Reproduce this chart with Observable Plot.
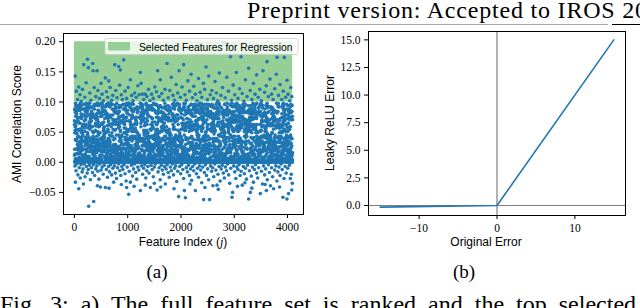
<!DOCTYPE html>
<html>
<head>
<meta charset="utf-8">
<script src="https://cdn.jsdelivr.net/npm/d3@7"></script>
<script src="https://cdn.jsdelivr.net/npm/@observablehq/plot@0.6"></script>
<style>
  html, body { margin: 0; padding: 0; background: #fff; }
  #page { position: relative; width: 640px; height: 308px; overflow: hidden; background: #fff; }
  #plotA, #plotB { position: absolute; top: 0; }
  #plotA { left: 0; }
  #plotB { left: 320px; }
  #overlay { position: absolute; left: 0; top: 0; pointer-events: none; }
</style>
</head>
<body>
<div id="page">
  <div id="plotA"></div>
  <div id="plotB"></div>
  <svg id="overlay" width="640" height="308"></svg>
</div>
<script>
// ---------------- Panel (a) data ----------------
// Feature index (j) and AMI correlation score.
const selectedJ = [0, 4095];
const selectedScore = [0.10, 0.20];

// Points above the 0.10 threshold: [feature index, AMI score]
const upperPoints = [[15,0.143],[35,0.118],[60,0.104],[80,0.125],[105,0.112],[130,0.101],[150,0.121],[175,0.162],[195,0.108],[220,0.132],[245,0.171],[262,0.157],[290,0.115],[310,0.103],[344,0.164],[350,0.152],[372,0.124],[400,0.109],[425,0.152],[440,0.119],[470,0.106],[500,0.131],[520,0.113],[545,0.102],[580,0.140],[600,0.117],[625,0.108],[645,0.135],[670,0.124],[700,0.103],[720,0.111],[757,0.162],[775,0.119],[800,0.107],[832,0.159],[850,0.128],[863,0.153],[880,0.112],[900,0.104],[925,0.170],[950,0.118],[980,0.106],[1010,0.124],[1050,0.137],[1075,0.111],[1100,0.102],[1130,0.115],[1160,0.108],[1190,0.127],[1215,0.112],[1238,0.149],[1251,0.131],[1275,0.113],[1300,0.104],[1330,0.113],[1360,0.109],[1390,0.121],[1420,0.102],[1450,0.113],[1480,0.106],[1510,0.125],[1540,0.117],[1563,0.152],[1590,0.109],[1613,0.137],[1640,0.114],[1670,0.103],[1700,0.121],[1738,0.164],[1760,0.107],[1790,0.119],[1820,0.141],[1850,0.111],[1880,0.103],[1910,0.129],[1940,0.115],[1965,0.152],[1990,0.108],[2020,0.125],[2050,0.162],[2075,0.112],[2100,0.103],[2130,0.135],[2160,0.118],[2190,0.146],[2215,0.107],[2240,0.126],[2270,0.113],[2300,0.102],[2330,0.139],[2360,0.116],[2390,0.108],[2420,0.131],[2445,0.121],[2470,0.158],[2495,0.104],[2520,0.143],[2550,0.112],[2580,0.119],[2610,0.106],[2640,0.134],[2665,0.115],[2690,0.102],[2720,0.148],[2750,0.111],[2780,0.124],[2800,0.199],[2830,0.107],[2860,0.141],[2890,0.118],[2930,0.175],[2950,0.103],[2980,0.128],[3010,0.112],[3040,0.149],[3070,0.106],[3100,0.122],[3127,0.175],[3150,0.114],[3180,0.101],[3210,0.137],[3240,0.109],[3270,0.156],[3300,0.119],[3330,0.104],[3360,0.131],[3390,0.113],[3420,0.145],[3450,0.108],[3480,0.121],[3510,0.102],[3540,0.152],[3570,0.116],[3600,0.127],[3615,0.167],[3640,0.109],[3670,0.138],[3700,0.113],[3730,0.104],[3760,0.122],[3790,0.146],[3803,0.174],[3830,0.111],[3860,0.129],[3890,0.104],[3920,0.118],[3940,0.174],[3965,0.108],[3990,0.136],[4010,0.113],[4040,0.102],[4060,0.124],[4080,0.109]];

// Points below zero: [feature index, AMI score]
const lowerPoints = [[19,-0.033],[81,-0.044],[268,-0.073],[362,-0.065],[488,-0.041],[582,-0.042],[737,-0.033],[1019,-0.053],[1051,-0.033],[1238,-0.047],[1426,-0.042],[1551,-0.046],[1707,-0.036],[1957,-0.057],[2083,-0.059],[2064,-0.047],[2270,-0.047],[2426,-0.062],[2538,-0.062],[2677,-0.038],[2958,-0.058],[2970,-0.050],[3270,-0.061],[3302,-0.050],[3490,-0.052],[3602,-0.047],[3739,-0.044],[3914,-0.058],[3990,-0.061],[4020,-0.052],[4052,-0.027],
[170,-0.036],[430,-0.039],[650,-0.043],[880,-0.037],[1120,-0.040],[1330,-0.038],[1620,-0.041],[1870,-0.044],[2170,-0.036],[2450,-0.042],[2700,-0.045],[3060,-0.040],[3330,-0.043],[3580,-0.037],[3850,-0.041],[4080,-0.046],[1500,-0.035],[2600,-0.039],[3200,-0.034],[980,-0.042],
[10,-0.006],[30,-0.014],[45,-0.003],[65,-0.021],[90,-0.009],[110,-0.026],[125,-0.004],[145,-0.016],[160,-0.011],[185,-0.003],[200,-0.024],[225,-0.007],[240,-0.018],[260,-0.012],[280,-0.005],[300,-0.029],[320,-0.009],[340,-0.017],[355,-0.004],[380,-0.022],[400,-0.011],[420,-0.006],[440,-0.015],[460,-0.028],[475,-0.003],[500,-0.013],[520,-0.008],[540,-0.020],[560,-0.005],[600,-0.012],[620,-0.025],[640,-0.007],[660,-0.016],[680,-0.004],[700,-0.021],[720,-0.010],[750,-0.006],[770,-0.018],[790,-0.027],[810,-0.009],[830,-0.003],[850,-0.014],[870,-0.022],[890,-0.007],[910,-0.012],[930,-0.004],[950,-0.019],[970,-0.031],[990,-0.008],[1030,-0.015],[1070,-0.005],[1090,-0.023],[1110,-0.011],[1130,-0.003],[1150,-0.017],[1170,-0.028],[1190,-0.008],[1210,-0.013],[1260,-0.006],[1280,-0.020],[1300,-0.010],[1320,-0.004],[1340,-0.026],[1360,-0.014],[1380,-0.007],[1400,-0.018],[1440,-0.005],[1460,-0.012],[1480,-0.024],[1500,-0.008],[1520,-0.003],[1570,-0.016],[1590,-0.009],[1610,-0.029],[1630,-0.005],[1650,-0.013],[1670,-0.020],[1690,-0.007],[1720,-0.011],[1740,-0.004],[1760,-0.017],[1780,-0.025],[1800,-0.008],[1820,-0.014],[1840,-0.003],[1860,-0.021],[1880,-0.010],[1900,-0.006],[1920,-0.032],[1940,-0.015],[1975,-0.007],[1995,-0.019],[2015,-0.004],[2035,-0.012],[2050,-0.027],[2100,-0.009],[2120,-0.016],[2140,-0.005],[2160,-0.022],[2180,-0.011],[2200,-0.030],[2220,-0.007],[2240,-0.014],[2260,-0.003],[2290,-0.019],[2310,-0.010],[2330,-0.025],[2350,-0.006],[2370,-0.013],[2390,-0.034],[2410,-0.008],[2440,-0.017],[2460,-0.004],[2480,-0.022],[2500,-0.011],[2520,-0.029],[2555,-0.006],[2575,-0.015],[2595,-0.009],[2615,-0.024],[2635,-0.003],[2655,-0.013],[2695,-0.020],[2715,-0.007],[2735,-0.031],[2755,-0.011],[2775,-0.005],[2795,-0.018],[2815,-0.026],[2835,-0.008],[2855,-0.014],[2875,-0.003],[2895,-0.021],[2915,-0.035],[2935,-0.010],[2990,-0.006],[3010,-0.016],[3030,-0.027],[3050,-0.008],[3070,-0.012],[3090,-0.004],[3110,-0.022],[3130,-0.015],[3150,-0.038],[3170,-0.007],[3190,-0.019],[3210,-0.010],[3230,-0.028],[3250,-0.005],[3285,-0.014],[3320,-0.023],[3340,-0.008],[3360,-0.033],[3380,-0.012],[3400,-0.004],[3420,-0.018],[3440,-0.026],[3460,-0.009],[3510,-0.015],[3530,-0.036],[3550,-0.006],[3570,-0.021],[3590,-0.011],[3620,-0.029],[3640,-0.004],[3660,-0.017],[3680,-0.039],[3700,-0.009],[3720,-0.024],[3760,-0.013],[3780,-0.006],[3800,-0.031],[3820,-0.016],[3840,-0.008],[3860,-0.022],[3880,-0.003],[3900,-0.012],[3935,-0.027],[3955,-0.007],[3975,-0.018],[4005,-0.010],[4035,-0.005],[4070,-0.020],[4090,-0.035]];

// Dense band 0.00–0.10: one character per feature, each a hand-estimated score level
// (index in scoreLevels / 510). Characters are spread over the feature axis in a fixed interleaved order.
const scoreLevels = "0123456789abcdefghijklmnoABCDEFGHIJKLMNOPQRSTUVWXYZ";
const bandScores = [
"K0fR3A7cQ1mT8X2bE0N9hW3Ga1P6kD0YS2eI5U0jB4nM1Z6gH0Jc8L3FV1iO7C0d",
"2Gb0Ue7K1kNaS3F9m0LcYh4R2J6D0iX1gP8T0lW3A5n2OfE0Q7jM1ZdB4H0I9Ve",
"T1c0Hk6Z2aJ3Rg8E0nY1Nf5C2Lm0W4SbP9G1A0jU7Ke3D0hQ6O1Bi2X0lM5FdI3V",
"0Sj4Bm1Ea7N0Wf3Kh9T2Yc0G6Pb1L0Xk5Ui3D8R0Hn2Ze1QJ7A0Og4Vd1M6C0lF",
"e3R0Z8Mk1A5Ii0T2Dc7N4Hf0S1Wn9P3Bg0J6Q2Ya0L8Um1F4Xd0G5Ej2Ob0V3Kh",
"1Pc6Hn0Fb2Y3T9Ke0Rl4C1Ma8W0Q5Di2Gj0N7Ug1Z3Ab0L6Sf2X0Jk9E4Vh1I0O",
"M0g3Ql5Ua0D8Kd1Y2Wc7H0Fn4R1Xi6B0Sk3T9Gb0J2Ee5N1Zm0A8Lh3P0Cj6I1V",
"4Oa0Bj7F1Wk2Re9Y0Ih3Dn5T0Gc1M6Ug0Q2Xl8S3Kb0H1Vd4J0Zf7A2Pm0E5Ci1N",
"Ye0G4Ll9R2Ah0U1Sd6K3Mj0I7Fb1W5Ck0N2Tg8D0Qn3B1Xa6H0Vf2Z4Oi0P9Em1J",
"0Zb5Hg2T1Ni8D0Rk3Ej0A6Wm1C4Yf0L9Pa2S0Uh7G1Ic3Q0Kd5Bl2X0Fn8V1Oe3M",
"Jh1D0Tm6X3Ac0K8Ng2Wb1R5Gi0Y4Sl7E0Pd3H1Lf0U9Bk2Z6Qa0C3Mj1V8Fe0I4O",
"6Ck0S3Yg1Ma9H2Ej0Ib5R1Wl0N7Dd3T0Pf2Zh6K1Ac0X4Un8G0Ji1Q3Bm0L5Ve2F",
"Rb0N2Fj7Q1Ok0V4Xh3Ca8L0Gn1T5Ie0Y2Dm9W1Hg0S6Bl3K0Pc2Ud7A1Zf0J4Ma3E",
"0Lh3Wa1G8Dk0S2Pf6C1Ti0X9Jg4N0Eb2Qm1Y7Ho0R3Uc5A2Il0V8Md1F3Bj0Z6Ke",
"Ug2I0Md5Zf1Y3Kc0B9Hl0R4Ae7S1Nj0D2Xb6G1Ok0T8Pa3L0Vn1Q5Ci2W0Fh4J7E",
"3Dm0Hc7V1Tb4X0Gk2Ri6A1Ne0Q9Sl3Y0Wf1J5Kj2E0Za8O1Lg3B0Ph6C2Ud0M4Ia",
"Wd0T5Ak2F1Xg8L0Oc3J1Yn6E0Mi2Rb4H0Ve7S1Bl0Z3Qh9N2Ga0D5Pj1Ik0U6Cf3K",
"0Ha8Q3Ie1V0Cl5Nf2Jb0W7Sm1Dg4X0Ak3Zc9T1Rj0G6Oh2Ld0Y5Bn1Ei3U0Mf8F2P",
"Ni3G0Sd6Wk1B2Zh0K9Pa4E1Rm0V7Jc2T0Xf5Ab1Og3Q0Hl6Ce2Y0Mj1U8Dn0F4Ib3L",
"5Af0J2Tl1Y7Ec0M3Rh9O1Wb0K4Gj2Sd0X6Nk1B0Pa8Zi3H1Vc0D5Qg2Lm0U7Ie1C0F",
"Bk1Q0Xe4Lg2H8Di0T3Wc1N6Zm0A2Sj5F0Kb9R1Ya3V0Eh2Pn7G0Id1O4Mf0J6Ul3C",
"0Ye2Uc5D1Ij8P0Zl3Ga1Sh0R7Bf4N1Wk0E6Tm2Q0Hb3A9Xd1Kn0L5Jg2Vi0C8Oa1M",
"Gl0R3Yb1Mh6K2Aj0S9Ec4I0Wn1T5Df0X2Ua7Q0Ck3H1Pg0N8Zi2Lm0B4Fd1V6Je0O",
"2Ni0F7Wd1Ak3Tb0Q5Gh8L0Mc1R2Yl0E6Zf3S0Ja1U9Kg4C0Pm2Xe1B0Hj7Vn3D0I",
"Ma4B0Zg2Ie1S8Xk0H3Nd0Q6Tl1C5Fb0W2Jh7R1Yc0K3Aj9E0Uf2Gn1O4Di0L6Pe3V",
"0Rc1G6Jm3Yh0D2Ub8Ka0W4Nl1S7Ff0Q3Ie2X0Bk5T1Zg0M9Ad3H0Ln2C6Vj1Eo0P",
"Kf2X0Ai5Ql1H3Tc0Y8Gn0U1Ml6Rb0E2Wd4S0Jj7D1Pa0Z3Ch9N0Og2Bk1I5Fe0L3",
"7Th0Ba1E3Ni0L6Zf2Wm0J9Qc1Gd0S4Yk2Ua0D5Hj1X8Ob0R3Cl2Ie0M6Kg1V0Fa4P",
"Sl0E3Rd1Kb7G0Yh2Oc5X1Jn0A8Wg3Mi0Q2Vf6T1Dk0H4Ze9L0Ua2Pj1F3Cm0N7Bb1I",
"0Xa3Ij1Qg6Lh0C2Vd8R1Ne0F4Uk3Z0Hm1T7Ac2Wf0K5Sb1Y0Gl9E3Oj0P2Bi1M6Dn",
"Hc1V0Ok4Sg2Jl8Ye0D1Ea3W6Bm0N2Qh1T5Kf0Ui3A0Zn7Xb1R0Ld4Gj2C9Mi0P3Fe",
"3Wk0Ai6Nh1Mc0Z2Tf9Yb1H0Eg4Sl2Q0Ua7D1Jd0O3Rm5C1Xh0K2Bj8Vn0L1Gc4I0",
"H2kb0QN4Tf1Dc0eZ7Ga3Lm1S0iW9Bj2Rd0Ok5Ya1Xh0Cg3Ef8Ml0Jn2Vb1P0Ki4A",
"0Fe6Rl2Sc1Ug0Zj3Dh7Nb0Ta1Wm4Ik0Qd2Cf9Hn1Yg0Ej5La3Ob0Xi2Pc1Gk6M0",
"Vd3Jh0Bm1Ka8Oe2Fi0Rg5Wc1Ln0Yb4Sj2Ag0Dl7Tk1Ho3Qf0Ue6Nc1Zi0Ma2Xd9",
"G1Eh0Pj4Ck2Ib0Sg7Va1Rm0Lc3Yf1Jd5Oa0Wn2Hk8Ue1Bi0Tl3Mf6Xb0Qc1Ng2D",
"0Kj7Eb2Yl1Sa0Hm3Cf6Id1Vg0Rk9Ub2Ne0Zh4Fo1Lc0Wa5Qj2Gi1Td0Bn8Pe3Xm0",
"Ob1Ui0Ck4Mg2Ef7Ya0Jl1Rc3Hd0Sn6Wb1Ai2Xf0Kh5Dm1Ge0Qa3Zj8Lk1Bc0Ti2N",
"5Xg0Nf1Jb3Rh0Ae2Ol6Vk1Ic0Dj4Ma0Sd1Ye8Gm2Kg0Wi3Pb1Fn0Uc7Hl2Ta0Ck1",
"Lh0Zb4Qe1Gm2Sk0Ba7Xj1Oc3Ig0Ed5Vl1Nn0Rf2Yh6Ka0Wc1Jm3Ti0Pd9Ub2Ce0M",
"1Fk3Ag0Vn2Dc1Ql0Hi6Yb2Ma0Se4Rj1Wh0Lf8Ok2Td1Gg0Xa3Jb5Cm0Ie1Ul2Nc0",
"Ug3Ph0Ka1Bl5Ze0Ri2Ec1Wj7Hd0Mb3Sm1Vf0Aa4Yg2Ck0Ln1Qe9Tc0Xh2Gj1Ob6I",
"0Ja2Dl1Nh8Cb0Wg3Fi1Tk0Ye5Me2Qc0Ha1Rm4Vj0Sd7Bf1Kn2Xb0Gc3Ui1Pl6Ea0",
"Zm1Ic0Sf4Lb2Gk0Ah7Vc1Tg0Nd3Kj1Ea6Ri0Xl2Wb0Hm1Fe8Qg0Yc2Dn1Oj5Bk0U",
"3Ee0Ml1Ya6Hc2Jg0Pk1Sb4Dj0Vi2Gf7Nm1Ah0Td3Le1Wc0Rn5Fb2Ki0Xg1Qa9Cl0",
"Bd2Oi0Wk1Ff5Tl3Ea0Jh1Nc7Vb0Gm2Yj1Sg0Ld4Kk1He0Ra8Xc2Cn0Ub1Mf3Pi6Q",
"0Nl4Ib1Gd0Uj2Yf8Ck1Sa0Mh3Wm1Bg5Je0Ra2Dc1Oh0Vk6Tn1Ke3Xb0Hf2Li9Zc1",
"Fa0Tj2Rn1Ed6Kl0Pc3Ah1Yi0Vm4Se2Dg0Nb7Hk1Wc0Ij3Og1Bf5Mi0Ua2Zl1Ge0X"
];

// Axis ticks (a)
const aTicksX = [0, 1000, 2000, 3000, 4000];
const aTicksY = [-0.05, 0, 0.05, 0.10, 0.15, 0.20];
const aTickLabelsY = ["\u22120.05", "0.00", "0.05", "0.10", "0.15", "0.20"];

// ---------------- Panel (b) data ----------------
const originalError = [-15, 0, 15];
const leakyError = [-0.15, 0, 15];
const bTicksX = [-10, 0, 10];
const bTickLabelsX = ["\u221210", "0", "10"];
const bTicksY = [0, 2.5, 5, 7.5, 10, 12.5, 15];
const bTickLabelsY = ["0.0", "2.5", "5.0", "7.5", "10.0", "12.5", "15.0"];

// ---------------- Build tables ----------------
const bandChars = bandScores.join("").split("").filter(c => scoreLevels.indexOf(c) >= 0);
const nBand = bandChars.length;
const bandPoints = bandChars.map((c, i) => {
  const slot = (i * 1031) % nBand;
  return { j: Math.round(slot * 4095 / (nBand - 1)), s: scoreLevels.indexOf(c) / 510 };
});
const outlierPoints = upperPoints.concat(lowerPoints).map(([j, s]) => ({ j, s }));
const allPoints = bandPoints.concat(outlierPoints).sort((a, b) => a.j - b.j);

const lookup = (ticks, labels) => d => {
  const k = ticks.findIndex(t => Math.abs(t - d) < 1e-9);
  return k >= 0 ? labels[k] : "";
};

const BLUE = "#1f77b4";
const GREEN = "#95cf95";
const SERIF = "'Liberation Serif', 'DejaVu Serif', serif";
const SANS = "'Liberation Sans', Arial, sans-serif";

const plotA = Plot.plot({
  width: 320, height: 260,
  marginLeft: 63, marginRight: 17, marginTop: 33, marginBottom: 46,
  style: { fontFamily: SERIF, fontSize: "11.5px", background: "transparent", color: "#000" },
  x: { domain: [-205, 4300], label: null },
  y: { domain: [-0.0867, 0.2137], label: null },
  marks: [
    Plot.rect([{ x1: selectedJ[0], x2: selectedJ[1], y1: selectedScore[0], y2: selectedScore[1] }],
      { x1: "x1", x2: "x2", y1: "y1", y2: "y2", fill: GREEN }),
    Plot.dot(allPoints, { x: "j", y: "s", r: 1.8, fill: BLUE, stroke: null }),
    Plot.frame({ stroke: "#000", strokeWidth: 1 }),
    Plot.axisX({ ticks: aTicksX, tickSize: 4, tickPadding: 4, tickFormat: d => String(d), label: null, stroke: "#000" }),
    Plot.axisY({ ticks: aTicksY, tickSize: 4, tickPadding: 4, tickFormat: lookup(aTicksY, aTickLabelsY), label: null, stroke: "#000" })
  ]
});
document.getElementById("plotA").appendChild(plotA);

const leakyPoints = originalError.map((e, i) => ({ e, l: leakyError[i] }));
const plotB = Plot.plot({
  width: 320, height: 260,
  marginLeft: 48, marginRight: 15, marginTop: 31, marginBottom: 45,
  style: { fontFamily: SERIF, fontSize: "11.5px", background: "transparent", color: "#000" },
  x: { domain: [-16.5, 16.5], label: null },
  y: { domain: [-0.9075, 15.7575], label: null },
  marks: [
    Plot.ruleX([0], { stroke: "#808080", strokeWidth: 1.2 }),
    Plot.ruleY([0], { stroke: "#808080", strokeWidth: 1.2 }),
    Plot.line(leakyPoints, { x: "e", y: "l", stroke: BLUE, strokeWidth: 1.6 }),
    Plot.frame({ stroke: "#000", strokeWidth: 1 }),
    Plot.axisX({ ticks: bTicksX, tickSize: 4, tickPadding: 4, tickFormat: lookup(bTicksX, bTickLabelsX), label: null, stroke: "#000" }),
    Plot.axisY({ ticks: bTicksY, tickSize: 4, tickPadding: 4, tickFormat: lookup(bTicksY, bTickLabelsY), label: null, stroke: "#000" })
  ]
});
document.getElementById("plotB").appendChild(plotB);

// ---------------- Overlay: page texts, axis titles, legend ----------------
const ov = d3.select("#overlay");
ov.append("text").attr("x", 247).attr("y", 18).attr("font-family", SERIF).attr("font-size", 24)
  .attr("letter-spacing", 0.8).attr("fill", "#000").text("Preprint version: Accepted to IROS 2020");
ov.append("line").attr("x1", 0).attr("x2", 608).attr("y1", 24.5).attr("y2", 24.5).attr("stroke", "#aaa").attr("stroke-width", 1);
ov.append("line").attr("x1", 612).attr("x2", 640).attr("y1", 24.5).attr("y2", 24.5).attr("stroke", "#000").attr("stroke-width", 1);

// axis titles
ov.append("text").attr("transform", "translate(21,124) rotate(-90)").attr("text-anchor", "middle")
  .attr("font-family", SANS).attr("font-size", 12).attr("fill", "#000").text("AMI Correlation Score");
const xt = ov.append("text").attr("x", 183).attr("y", 246).attr("text-anchor", "middle")
  .attr("font-family", SANS).attr("font-size", 12).attr("fill", "#000");
xt.append("tspan").text("Feature Index (");
xt.append("tspan").attr("font-family", SERIF).attr("font-style", "italic").text("j");
xt.append("tspan").text(")");
ov.append("text").attr("transform", "translate(334,123) rotate(-90)").attr("text-anchor", "middle")
  .attr("font-family", SANS).attr("font-size", 12).attr("fill", "#000").text("Leaky ReLU Error");
ov.append("text").attr("x", 486).attr("y", 246).attr("text-anchor", "middle")
  .attr("font-family", SANS).attr("font-size", 12).attr("fill", "#000").text("Original Error");

// legend
ov.append("rect").attr("x", 105).attr("y", 38.5).attr("width", 193).attr("height", 16).attr("rx", 2)
  .attr("fill", "#fff").attr("fill-opacity", 0.8).attr("stroke", "#ccc").attr("stroke-width", 0.8);
ov.append("rect").attr("x", 108).attr("y", 42).attr("width", 22).attr("height", 8.5).attr("fill", GREEN);
ov.append("text").attr("x", 139).attr("y", 50.5).attr("font-family", SANS).attr("font-size", 10.3)
  .attr("fill", "#000").text("Selected Features for Regression");

// sub-captions
ov.append("text").attr("x", 157).attr("y", 278).attr("text-anchor", "middle").attr("font-family", SERIF)
  .attr("font-size", 19).attr("fill", "#000").text("(a)");
ov.append("text").attr("x", 464).attr("y", 278).attr("text-anchor", "middle").attr("font-family", SERIF)
  .attr("font-size", 19).attr("fill", "#000").text("(b)");

// figure caption (cut off at the bottom)
ov.append("text").attr("x", 0).attr("y", 312).attr("font-family", SERIF).attr("font-size", 24)
  .attr("word-spacing", 6).attr("fill", "#000").text("Fig. 3: a) The full feature set is ranked and the top selected.");
</script>
</body>
</html>
